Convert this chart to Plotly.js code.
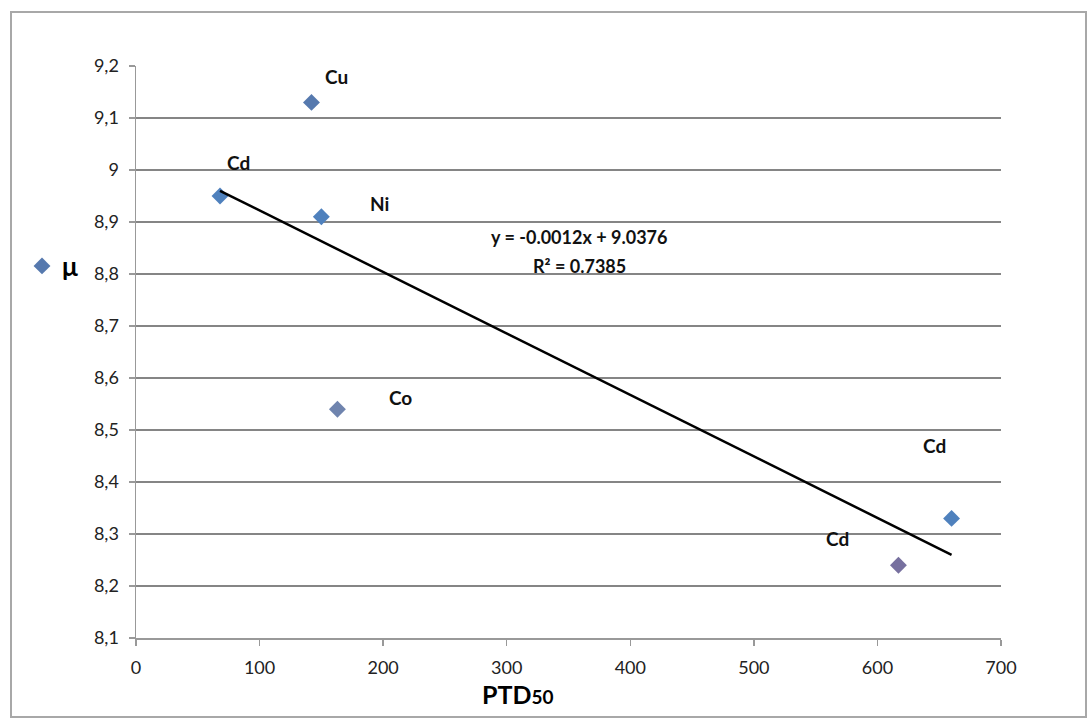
<!DOCTYPE html>
<html>
<head>
<meta charset="utf-8">
<script src="https://cdn.plot.ly/plotly-3.0.1.min.js"></script>
<style>html,body{margin:0;padding:0;background:#fff;}#chart{width:1090px;height:720px;}</style>
</head>
<body>
<div id="chart"></div>
<script>
// Data
var elements = ["Cu", "Cd", "Ni", "Co", "Cd", "Cd"];
var ptd50 = [142, 68, 150, 163, 660, 617];
var mu = [9.13, 8.95, 8.91, 8.54, 8.33, 8.24];
var markerColors = ["#5679AE", "#4F81BD", "#4F81BD", "#6F84AE", "#4F81BD", "#77709F"];
var labelX = [162, 83, 197, 214, 646, 568];
var labelY = [9.18, 9.015, 8.935, 8.563, 8.47, 8.292];
var trendX = [68, 660];
var trendY = [8.96, 8.26];
var yTickVals = [8.1, 8.2, 8.3, 8.4, 8.5, 8.6, 8.7, 8.8, 8.9, 9.0, 9.1, 9.2];
var yTickText = ["8,1", "8,2", "8,3", "8,4", "8,5", "8,6", "8,7", "8,8", "8,9", "9", "9,1", "9,2"];
var xTickVals = [0, 100, 200, 300, 400, 500, 600, 700];
var equationLines = ["y = -0.0012x + 9.0376", "R² = 0.7385"];
var equationY = [8.871, 8.815];

var L = 136, R = 1001, T = 66, B = 638, W = 1090, H = 720;
function px(p) { return (p - L) / (R - L); }
function py(p) { return (B - p) / (B - T); }

var FONT = "Lato, 'Open Sans', sans-serif";

var traces = [
  {
    x: ptd50, y: mu, mode: "markers", type: "scatter", name: "μ",
    marker: { symbol: "diamond", size: 13, color: markerColors, line: { width: 0 } },
    showlegend: true, hoverinfo: "x+y"
  },
  {
    x: trendX, y: trendY, mode: "lines", type: "scatter", name: "trend",
    line: { color: "#000000", width: 2.5 }, showlegend: false
  }
];

var annotations = elements.map(function (e, i) {
  return {
    x: labelX[i], y: labelY[i], xref: "x", yref: "y", text: e, showarrow: false,
    xanchor: "center", yanchor: "middle",
    font: { family: FONT, size: 19, color: "#111", weight: "bold" }
  };
});
equationLines.forEach(function (t, i) {
  annotations.push({
    x: 358.6, y: equationY[i], xref: "x", yref: "y", text: t, showarrow: false,
    xanchor: "center", yanchor: "middle",
    font: { family: FONT, size: 18, color: "#111", weight: "bold" }
  });
});
annotations.push({
  x: px(518), y: py(694), xref: "paper", yref: "paper",
  text: "PTD<span style='font-size:19px'>50</span>", showarrow: false,
  xanchor: "center", yanchor: "middle",
  font: { family: FONT, size: 25, color: "#000", weight: "bold" }
});

var layout = {
  width: W, height: H,
  margin: { l: L, r: W - R, t: T, b: H - B, pad: 0 },
  paper_bgcolor: "#ffffff", plot_bgcolor: "#ffffff",
  font: { family: FONT, color: "#222" },
  xaxis: {
    range: [0, 700], tickvals: xTickVals, showgrid: false, zeroline: false,
    showline: true, linecolor: "#999", linewidth: 1.5,
    ticks: "outside", ticklen: 6, tickcolor: "#999", tickwidth: 1.5,
    tickfont: { size: 18, color: "#222" }, ticklabelstandoff: 7
  },
  yaxis: {
    range: [8.1, 9.2], tickvals: yTickVals, ticktext: yTickText,
    showgrid: true, gridcolor: "#858585", gridwidth: 1.4, zeroline: false,
    showline: true, linecolor: "#999", linewidth: 1.5,
    ticks: "outside", ticklen: 6, tickcolor: "#999", tickwidth: 1.5,
    tickfont: { size: 18, color: "#222" }, ticklabelstandoff: 6
  },
  showlegend: true,
  legend: {
    x: px(22), y: py(266), xanchor: "left", yanchor: "middle",
    bgcolor: "rgba(0,0,0,0)", itemwidth: 30,
    font: { family: FONT, size: 26, color: "#000", weight: "bold" }
  },
  annotations: annotations,
  shapes: [{
    type: "rect", xref: "paper", yref: "paper",
    x0: px(11), x1: px(1086), y0: py(717), y1: py(12),
    line: { color: "#a8a8a8", width: 2 }, fillcolor: "rgba(0,0,0,0)", layer: "below"
  }]
};

Plotly.newPlot("chart", traces, layout, { displayModeBar: false, staticPlot: true });
</script>
</body>
</html>
